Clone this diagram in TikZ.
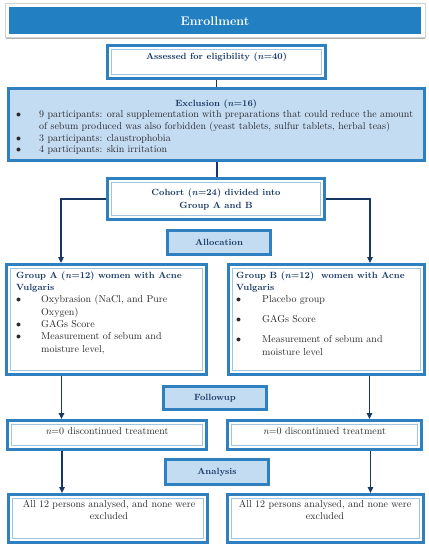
\documentclass[tikz,border=0pt]{standalone}
\usetikzlibrary{arrows.meta}
\definecolor{bblue}{RGB}{46,128,192}
\definecolor{enblue}{RGB}{34,128,194}
\definecolor{lblue}{RGB}{196,220,242}
\definecolor{iblue}{RGB}{160,196,228}
\definecolor{navy}{RGB}{24,56,100}
\definecolor{tdark}{RGB}{40,40,45}
\newcommand{\ttlfont}{\fontsize{9}{12.3}\selectfont\bfseries\color{navy}}
\begin{document}
\begin{tikzpicture}[x=1pt,y=-1pt,
  box/.style={draw=bblue, line width=3pt, fill=white, inner sep=0pt},
  sbox/.style={draw=bblue, line width=2.6pt, fill=lblue, inner sep=0pt},
  innerline/.style={draw=iblue, line width=1.3pt},
  conn/.style={draw=navy, line width=1.6pt},
  arr/.style={conn, -{Triangle[length=6pt,width=5.5pt]}},
  ttl/.style={font=\ttlfont, text=navy, inner sep=0pt},
  txt/.style={font=\fontsize{10}{12.3}\selectfont, text=tdark, inner sep=0pt}]
\useasboundingbox[fill=white] (0,0) rectangle (429,550);

% Enrollment banner
\draw[gray!35, line width=1pt] (5,3.5) rectangle (425,37.5);
\draw[gray!60, line width=1.2pt] (6,38.5) -- (425,38.5);
\node[fill=enblue, minimum width=412pt, minimum height=27pt, inner sep=0pt, outer sep=0pt] (enroll) at (215,20.5) {};
\node[font=\fontsize{12.5}{15}\selectfont\bfseries, text=white, anchor=base, inner sep=0pt] (enrollt) at (215,25) {Enrollment};

% boxes
\node[box, minimum width=218pt, minimum height=33pt] (assess) at (216.5,62) {};
\node[sbox, minimum width=416pt, minimum height=72pt] (excl) at (216.5,124.5) {};
\node[box, minimum width=217pt, minimum height=41pt] (cohort) at (216,199) {};
\node[sbox, minimum width=103pt, minimum height=24pt] (alloc) at (219,242.5) {};
\node[box, minimum width=200pt, minimum height=110pt] (groupA) at (106.5,319.5) {};
\node[box, minimum width=196pt, minimum height=110pt] (groupB) at (326.5,319.5) {};
\node[sbox, minimum width=103pt, minimum height=23pt] (follow) at (215,398) {};
\node[box, minimum width=199pt, minimum height=29pt] (zeroA) at (107,435) {};
\node[box, minimum width=194pt, minimum height=29pt] (zeroB) at (324.5,435) {};
\node[sbox, minimum width=103pt, minimum height=25pt] (anal) at (217,472) {};
\node[box, minimum width=199pt, minimum height=48pt] (finA) at (108,518.5) {};
\node[box, minimum width=196pt, minimum height=48pt] (finB) at (325.5,518.5) {};

\foreach \n in {assess,cohort,groupA,groupB,zeroA,zeroB,finA,finB}
  \draw[innerline] ([shift={(5.7pt,-5.7pt)}]\n.north west) rectangle ([shift={(-5.7pt,5.7pt)}]\n.south east);

% texts
\node[ttl, anchor=base] (assesst) at (216.5,59.5) {Assessed for eligibility (\textit{n}=40)};
\node[txt, anchor=base west, font=\fontsize{10}{11.6}\selectfont] (exclt) at (16,106.2) {%
  \begin{tabular}[t]{@{}p{23pt}@{}p{377pt}@{}}
  \multicolumn{2}{@{}c@{}}{\ttlfont Exclusion (\textit{n}=16)}\\
  $\bullet$ & 9 participants: oral supplementation with preparations that could reduce the amount\\
   & of sebum produced was also forbidden (yeast tablets, sulfur tablets, herbal teas)\\
  $\bullet$ & 3 participants: claustrophobia\\
  $\bullet$ & 4 participants: skin irritation
  \end{tabular}};
\node[ttl, anchor=base] (cohortt) at (216,195.2) {%
  \begin{tabular}[t]{@{}c@{}}Cohort (\textit{n}=24) divided into\\[0.7pt] Group A and B\end{tabular}};
\node[ttl, anchor=base] (alloct) at (219,245) {Allocation};
\node[txt, anchor=base west] (groupAt) at (16,278.2) {%
  \begin{tabular}[t]{@{}p{25pt}@{}p{165pt}@{}}
  \multicolumn{2}{@{}l}{\ttlfont Group A (\textit{n}=12) women with Acne}\\
  \multicolumn{2}{@{}l}{\ttlfont Vulgaris}\\
  $\bullet$ & Oxybrasion (NaCl, and Pure\\
   & Oxygen)\\
  $\bullet$ & GAGs Score\\
  $\bullet$ & Measurement of sebum and\\
   & moisture level,
  \end{tabular}};
\node[txt, anchor=base west] (groupBt) at (236,278.2) {%
  \begin{tabular}[t]{@{}p{26pt}@{}p{160pt}@{}}
  \multicolumn{2}{@{}l}{\ttlfont Group B (\textit{n}=12) \ women with Acne}\\
  \multicolumn{2}{@{}l}{\ttlfont Vulgaris}\\
  $\bullet$ & Placebo group\\[7.7pt]
  $\bullet$ & GAGs Score\\[7.7pt]
  $\bullet$ & Measurement of sebum and\\
   & moisture level
  \end{tabular}};
\node[ttl, anchor=base] (followt) at (215,400.5) {Followup};
\node[txt, anchor=base] (zeroAt) at (107,434.2) {\textit{n}=0 discontinued treatment};
\node[txt, anchor=base] (zeroBt) at (324.5,434.2) {\textit{n}=0 discontinued treatment};
\node[ttl, anchor=base] (analt) at (217,474.5) {Analysis};
\node[txt, anchor=base] (finAt) at (109,507.2) {%
  \begin{tabular}[t]{@{}c@{}}All 12 persons analysed, and none were\\ excluded\end{tabular}};
\node[txt, anchor=base] (finBt) at (325,507.2) {%
  \begin{tabular}[t]{@{}c@{}}All 12 persons analysed, and none were\\ excluded\end{tabular}};

% connectors
\draw[conn] (assess.south) -- (excl.north);
\draw[conn] ([xshift=0.5pt]excl.south) -- ([xshift=1pt]cohort.north);
\draw[arr] (cohort.west) -| ([xshift=-45.5pt]groupA.north);
\draw[arr] (cohort.east) -| ([xshift=43.5pt]groupB.north);
\draw[arr] ([xshift=-45pt]groupA.south) -- ([xshift=-45pt]groupA.south |- zeroA.north);
\draw[arr] ([xshift=43pt]groupB.south) -- ([xshift=43pt]groupB.south |- zeroB.north);
\draw[arr] ([xshift=-45pt]zeroA.south) -- ([xshift=-45pt]zeroA.south |- finA.north);
\draw[arr] ([xshift=46pt]zeroB.south) -- ([xshift=46pt]zeroB.south |- finB.north);
\end{tikzpicture}
\end{document}
